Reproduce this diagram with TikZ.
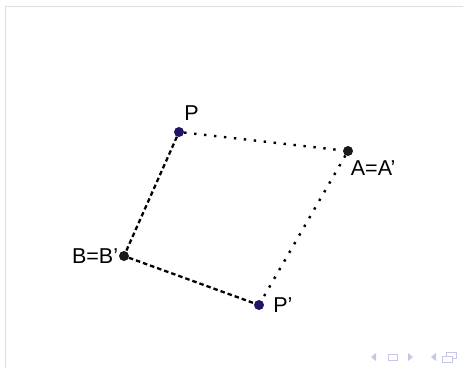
\documentclass[tikz,border=0pt]{standalone}
\usepackage{fontspec}
\setmainfont{Liberation Sans}
\usetikzlibrary{positioning}
\definecolor{pointblue}{RGB}{30,22,100}
\definecolor{pointblack}{RGB}{25,25,25}
\definecolor{framegray}{RGB}{222,222,222}
\definecolor{navlilac}{RGB}{198,198,232}
\tikzset{
    ptblue/.style={circle, fill=pointblue, inner sep=0pt, minimum size=10pt},
    ptblack/.style={circle, fill=pointblack, inner sep=0pt, minimum size=10pt},
    ptlabel/.style={font=\fontsize{21.5}{25}\selectfont, inner sep=0pt},
    dotline/.style={line width=2.4pt, dash pattern=on 2.4pt off 7.6pt},
    dashline/.style={line width=2.3pt, dash pattern=on 4.5pt off 3pt},
    navfill/.style={fill=navlilac, draw=none},
    navbox/.style={draw=navlilac, line width=1pt}
}
\begin{document}
\begin{tikzpicture}[x=1pt, y=1pt]
  \path[use as bounding box] (0,0) rectangle (463,368);
  % slide frame edges
  \draw[framegray, line width=1pt] (5,0) -- (5,362) -- (463,362);
  % points
  \node[ptblue]  (P)  at (179,236) {};
  \node[ptblack] (A)  at (348,217) {};
  \node[ptblack] (B)  at (124,112) {};
  \node[ptblue]  (Pp) at (259,63)  {};
  % labels
  \node[ptlabel, above right=8pt and 1.5pt of P] (Plab)  {P};
  \node[ptlabel, below right=5.5pt and -1pt of A] (Alab)  {A=A'};
  \node[ptlabel, left=0.5pt of B]                 (Blab)  {B=B'};
  \node[ptlabel, right=9pt of Pp]                 (Pplab) {P'};
  % sides
  \draw[dotline]  (P) -- (A);
  \draw[dotline]  (A) -- (Pp);
  \draw[dashline] (P) -- (B);
  \draw[dashline] (B) -- (Pp);
  % navigation symbols
  \fill[navfill] (376,15) -- (376,7) -- (371,11) -- cycle;
  \draw[navbox]  (388,8) rectangle (397,14);
  \fill[navfill] (408,15) -- (408,7) -- (413,11) -- cycle;
  \fill[navfill] (436,15) -- (436,7) -- (431,11) -- cycle;
  \draw[navbox]  (446,10) rectangle (456,16);
  \draw[navbox, fill=white] (442,6) rectangle (452,12);
\end{tikzpicture}
\end{document}
